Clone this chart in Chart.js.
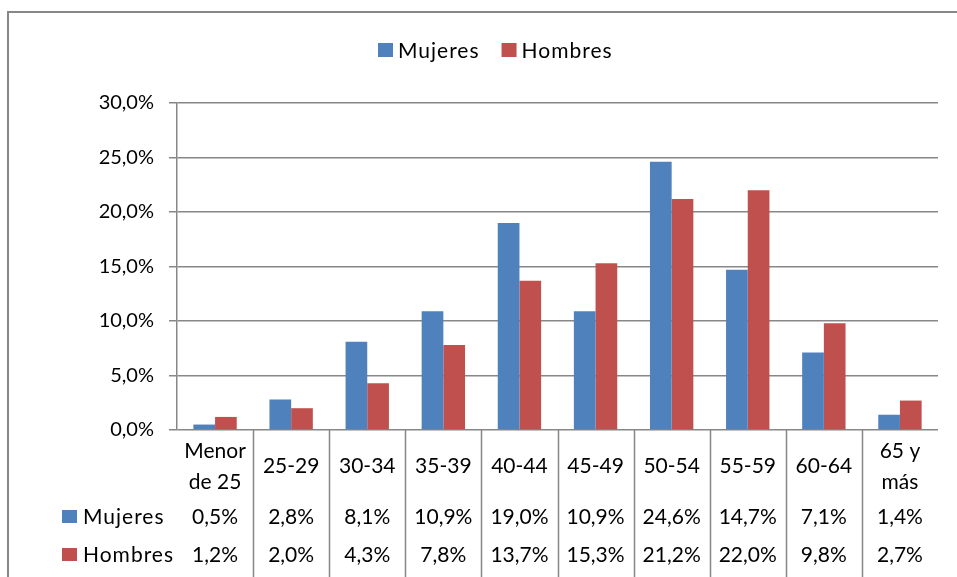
<!DOCTYPE html>
<html>
<head>
<meta charset="utf-8">
<script src="https://cdn.jsdelivr.net/npm/chart.js@4"></script>
<style>
  html, body { margin: 0; padding: 0; background: #fff; }
  #wrap { width: 957px; height: 577px; position: relative; }
</style>
</head>
<body>
<div id="wrap"><canvas id="c" width="957" height="577"></canvas></div>
<script>
// Distribución por tramos de edad
const categorias = [['Menor', 'de 25'], '25-29', '30-34', '35-39', '40-44', '45-49', '50-54', '55-59', '60-64', ['65 y', 'más']];
const mujeres = [0.5, 2.8, 8.1, 10.9, 19.0, 10.9, 24.6, 14.7, 7.1, 1.4];
const hombres = [1.2, 2.0, 4.3, 7.8, 13.7, 15.3, 21.2, 22.0, 9.8, 2.7];
const ticksY = [0, 5, 10, 15, 20, 25, 30];

const AZUL = '#4F81BD';
const ROJO = '#C0504D';
const GRIS = '#878787';
const FUENTE = 'Lato, "Open Sans", sans-serif';

const pct = v => v.toFixed(1).replace('.', ',') + '%';

// Marco, leyenda superior y tabla de datos bajo el eje
const tablaDatos = {
  id: 'tablaDatos',
  beforeDraw(chart) {
    const ctx = chart.ctx;
    ctx.save();
    ctx.strokeStyle = GRIS;
    ctx.lineWidth = 2;
    ctx.strokeRect(8, 12, 1200, 1200);
    ctx.restore();
  },
  afterDraw(chart) {
    const ctx = chart.ctx;
    const x = chart.scales.x;
    const area = chart.chartArea;
    const sets = chart.data.datasets;
    ctx.save();

    // leyenda
    ctx.textBaseline = 'middle';
    ctx.font = '21px ' + FUENTE;
    ctx.letterSpacing = '1px';
    let lx = 378;
    sets.forEach(ds => {
      ctx.fillStyle = ds.backgroundColor;
      ctx.fillRect(lx, 43, 15, 14);
      ctx.fillStyle = '#000';
      ctx.textAlign = 'left';
      ctx.fillText(ds.label, lx + 20, 51);
      lx += 20 + ctx.measureText(ds.label).width + 22;
    });

    // separadores de columnas
    ctx.strokeStyle = GRIS;
    ctx.lineWidth = 1.5;
    for (let i = 1; i < categorias.length; i++) {
      const px = Math.round((x.getPixelForValue(i - 1) + x.getPixelForValue(i)) / 2) + 0.5;
      ctx.beginPath();
      ctx.moveTo(px, area.bottom);
      ctx.lineTo(px, 577);
      ctx.stroke();
    }

    // etiquetas de categoría
    ctx.letterSpacing = '0px';
    ctx.fillStyle = '#000';
    ctx.textAlign = 'center';
    categorias.forEach((c, i) => {
      const cx = x.getPixelForValue(i);
      if (Array.isArray(c)) {
        ctx.fillText(c[0], cx, 451);
        ctx.fillText(c[1], cx, 482);
      } else {
        ctx.fillText(c, cx, 466);
      }
    });

    // filas de valores
    const filasY = [517, 555];
    sets.forEach((ds, r) => {
      const y = filasY[r];
      ctx.fillStyle = ds.backgroundColor;
      ctx.fillRect(62, y - 7, 15, 13);
      ctx.fillStyle = '#000';
      ctx.textAlign = 'left';
      ctx.letterSpacing = '1px';
      ctx.fillText(ds.label, 83, y);
      ctx.letterSpacing = '0px';
      ctx.textAlign = 'center';
      ds.data.forEach((v, i) => ctx.fillText(pct(v), x.getPixelForValue(i), y));
    });
    ctx.restore();
  }
};

new Chart(document.getElementById('c'), {
  type: 'bar',
  data: {
    labels: categorias,
    datasets: [
      { label: 'Mujeres', data: mujeres, backgroundColor: AZUL },
      { label: 'Hombres', data: hombres, backgroundColor: ROJO },
    ]
  },
  options: {
    responsive: false,
    animation: false,
    layout: { padding: { left: 0, top: 103, right: 19, bottom: 147 } },
    plugins: { legend: { display: false }, tooltip: { enabled: false } },
    datasets: { bar: { categoryPercentage: 0.57, barPercentage: 1 } },
    scales: {
      x: { display: false },
      y: {
        min: 0, max: 30,
        afterFit: s => { s.width = 177; },
        afterBuildTicks: s => { s.ticks = ticksY.map(v => ({ value: v })); },
        ticks: {
          callback: v => pct(v),
          color: '#000',
          padding: 15,
          font: { family: FUENTE, size: 20 },
        },
        grid: { color: GRIS, lineWidth: 1.5, tickLength: 8 },
        border: { color: GRIS, width: 1.5 },
      }
    }
  },
  plugins: [tablaDatos]
});
</script>
</body>
</html>
